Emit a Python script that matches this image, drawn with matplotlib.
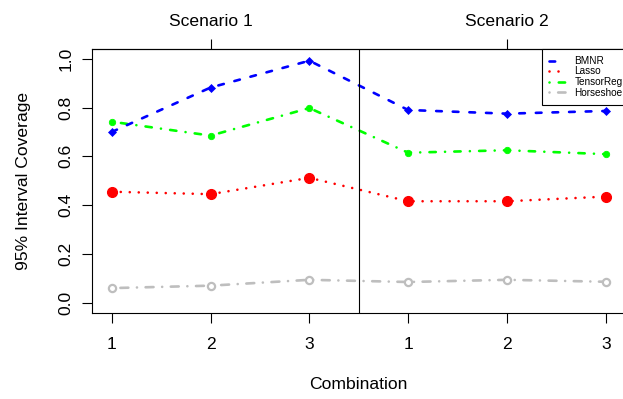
import numpy as np
import matplotlib
matplotlib.use("Agg")
from matplotlib import pyplot as plt
from matplotlib.lines import Line2D

plt.rcParams['font.family'] = ['Liberation Sans', 'DejaVu Sans']

# data
positions = [1, 2, 3, 4, 5, 6]
combo_labels = ["1", "2", "3", "1", "2", "3"]
scenario_pos = [2, 5]
scenario_labels = ["Scenario 1", "Scenario 2"]

bmnr = [0.700, 0.882, 0.992, 0.790, 0.775, 0.786]
lasso = [0.455, 0.445, 0.512, 0.416, 0.416, 0.435]
tensorreg = [0.742, 0.685, 0.798, 0.615, 0.625, 0.609]
horseshoe = [0.060, 0.070, 0.094, 0.085, 0.094, 0.086]

GRAY = "#BEBEBE"
LW = 1.9

# dash patterns, in units of linewidth (round caps like R)
ls_bmnr = (0, (2.15, 4.15))
ls_lasso = (0, (0.01, 3.4))
ls_tensor = (0, (0.01, 3.5, 2.4, 3.5))
ls_horse = (0, (0.01, 3.27, 3.0, 3.27))

fig = plt.figure(figsize=(6.23, 3.99), dpi=100)
# right edge of the box falls just outside the canvas, like the original
ax = fig.add_axes([92/623, (399-312.5)/399, 533.5/623, (312.5-49)/399])

common = dict(lw=LW, dash_capstyle='round', solid_capstyle='round')
ax.plot(positions, horseshoe, ls=ls_horse, color=GRAY, marker='o', ms=5.2,
        mfc='white', mec=GRAY, mew=1.6, **common)
ax.plot(positions, lasso, ls=ls_lasso, color='#FF0000', marker='o', ms=7,
        mfc='#FF0000', mec='#FF0000', mew=1, **common)
ax.plot(positions, tensorreg, ls=ls_tensor, color='#00FF00', marker='o', ms=4.6,
        mfc='#00FF00', mec='#00FF00', mew=0.6, **common)
ax.plot(positions, bmnr, ls=ls_bmnr, color='#0000FF', marker='D', ms=4.2,
        mfc='#0000FF', mec='#0000FF', mew=0.5, **common)

ax.axvline(3.5, color='black', lw=0.8)

ax.set_xlim(0.8, 6.2)
ax.set_ylim(-0.04, 1.04)

ax.set_xticks(positions)
ax.set_xticklabels(combo_labels)
ax.set_yticks([0.0, 0.2, 0.4, 0.6, 0.8, 1.0])
ax.set_yticklabels(["0.0", "0.2", "0.4", "0.6", "0.8", "1.0"], rotation=90, va='center')

ax.tick_params(axis='x', length=7, width=0.8, pad=10.5, labelsize=12.6)
ax.tick_params(axis='y', length=7, width=0.8, pad=6.3, labelsize=12.6)
for sp in ax.spines.values():
    sp.set_linewidth(0.8)
ax.spines['right'].set_visible(False)

top = ax.secondary_xaxis('top')
top.set_xticks(scenario_pos)
top.set_xticklabels(scenario_labels)
top.tick_params(length=7, width=0.8, pad=7.5, labelsize=12.6)
top.spines['top'].set_linewidth(0.8)
for side in ('left', 'right', 'bottom'):
    top.spines[side].set_visible(False)

ax.set_xlabel("Combination", fontsize=12.6, labelpad=18)
ax.set_ylabel("95% Interval Coverage", fontsize=12.6, labelpad=20)

handles = [
    Line2D([], [], color='#0000FF', ls=ls_bmnr, **common),
    Line2D([], [], color='#FF0000', ls=ls_lasso, **common),
    Line2D([], [], color='#00FF00', ls=ls_tensor, **common),
    Line2D([], [], color=GRAY, ls=ls_horse, **common),
]
leg = ax.legend(handles, ["BMNR", "Lasso", "TensorReg", "Horseshoe"],
                loc='upper right', bbox_to_anchor=(1.0079, 1.0),
                fontsize=7.2, frameon=True, fancybox=False,
                framealpha=1, edgecolor='black', borderaxespad=0,
                borderpad=0.7, labelspacing=0.05, handlelength=1.58,
                handletextpad=0.97)
leg.get_frame().set_linewidth(0.8)

fig.savefig("out.png", dpi=100)
